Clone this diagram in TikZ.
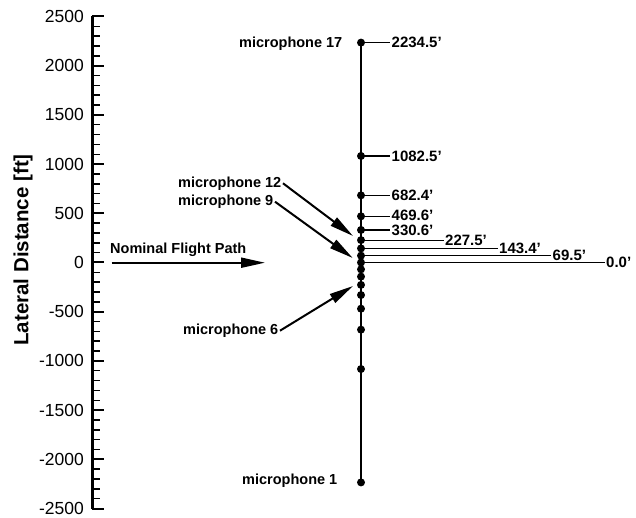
\documentclass[tikz,border=0pt]{standalone}
\usepackage{fontspec}
\setmainfont{Liberation Sans}
\usetikzlibrary{arrows.meta}
\tikzset{
  dot/.style={circle,fill=black,inner sep=0pt,minimum size=8pt},
  dlabel/.style={anchor=west,inner xsep=1.5pt,inner ysep=0pt,font=\fontsize{15}{16}\selectfont\bfseries},
  mlabel/.style={inner xsep=1.5pt,inner ysep=0.5pt,font=\fontsize{14.5}{16}\selectfont\bfseries},
  ticklabel/.style={anchor=east,inner sep=0pt,font=\fontsize{17.5}{19}\selectfont},
  bigarrow/.style={line width=2pt,-{Triangle[length=24pt,width=10pt]}},
  stem/.style={line width=1.3pt},
  lead/.style={line width=1.1pt}
}
\begin{document}
\begin{tikzpicture}[x=1pt,y=-1pt]
\useasboundingbox (0,0) rectangle (636,518);
% axis
\draw[line width=3pt] (92,{262.5-0.0984*2500}) -- (92,{262.5+0.0984*2500});
\foreach \v in {-2500,-2000,...,2500}{
  \draw[line width=2pt] (92,{262.5-0.0984*\v}) -- (104,{262.5-0.0984*\v});
  \node[ticklabel] (t\v) at (84,{262.5-0.0984*\v}) {\v};
}
\foreach \v in {-2400,-2300,...,2400}{
  \draw[line width=1.5pt] (92,{262.5-0.0984*\v}) -- (100,{262.5-0.0984*\v});
}
\node[rotate=90,font=\fontsize{20.5}{22}\selectfont\bfseries] (ylab) at (23,250) {Lateral Distance [ft]};
% microphones
\foreach \v [count=\i] in {-2234.5,-1082.5,-682.4,-469.6,-330.6,-227.5,-143.4,-69.5,0,69.5,143.4,227.5,330.6,469.6,682.4,1082.5,2234.5}{
  \coordinate (c\i) at (361,{262.5-0.0984*\v});
}
\draw[stem] (c1) -- (c17);
\foreach \i in {1,...,17}{ \node[dot] (m\i) at (c\i) {}; }
% distance labels
\node[dlabel] (l17) at (390,{262.5-0.0984*2234.5}) {2234.5’};
\node[dlabel] (l16) at (390,{262.5-0.0984*1082.5}) {1082.5’};
\node[dlabel] (l15) at (390,{262.5-0.0984*682.4}) {682.4’};
\node[dlabel] (l14) at (390,{262.5-0.0984*469.6-0.5}) {469.6’};
\node[dlabel] (l13) at (390,{262.5-0.0984*330.6+0.5}) {330.6’};
\node[dlabel] (l12) at (443.5,{262.5-0.0984*227.5}) {227.5’};
\node[dlabel] (l11) at (497.5,{262.5-0.0984*143.4}) {143.4’};
\node[dlabel] (l10) at (551,{262.5-0.0984*69.5}) {69.5’};
\node[dlabel] (l9) at (604.5,262.5) {0.0’};
\foreach \i in {9,...,17}{ \draw[lead] (c\i) -- (c\i -| l\i.west); }
% microphone labels
\node[mlabel,anchor=east] (mic17) at (344,44) {microphone 17};
\node[mlabel,anchor=east] (mic12) at (283,183.3) {microphone 12};
\node[mlabel,anchor=east] (mic9) at (275,201.7) {microphone 9};
\node[mlabel,anchor=east] (mic6) at (280,330.7) {microphone 6};
\node[mlabel,anchor=east] (mic1) at (339,480.7) {microphone 1};
\coordinate (a12) at (353,236);
\coordinate (a9) at (352.7,258);
\coordinate (a6) at (353,286);
\draw[bigarrow] (mic12.east) -- (a12);
\draw[bigarrow] (mic9.east) -- (a9);
\draw[bigarrow] (mic6.east) -- (a6);
% flight path
\node[mlabel,anchor=west] (fp) at (108.5,250) {Nominal Flight Path};
\coordinate (fpa) at (111.7,262.7);
\coordinate (fpb) at (265,262.7);
\draw[bigarrow] (fpa) -- (fpb);
\end{tikzpicture}
\end{document}
